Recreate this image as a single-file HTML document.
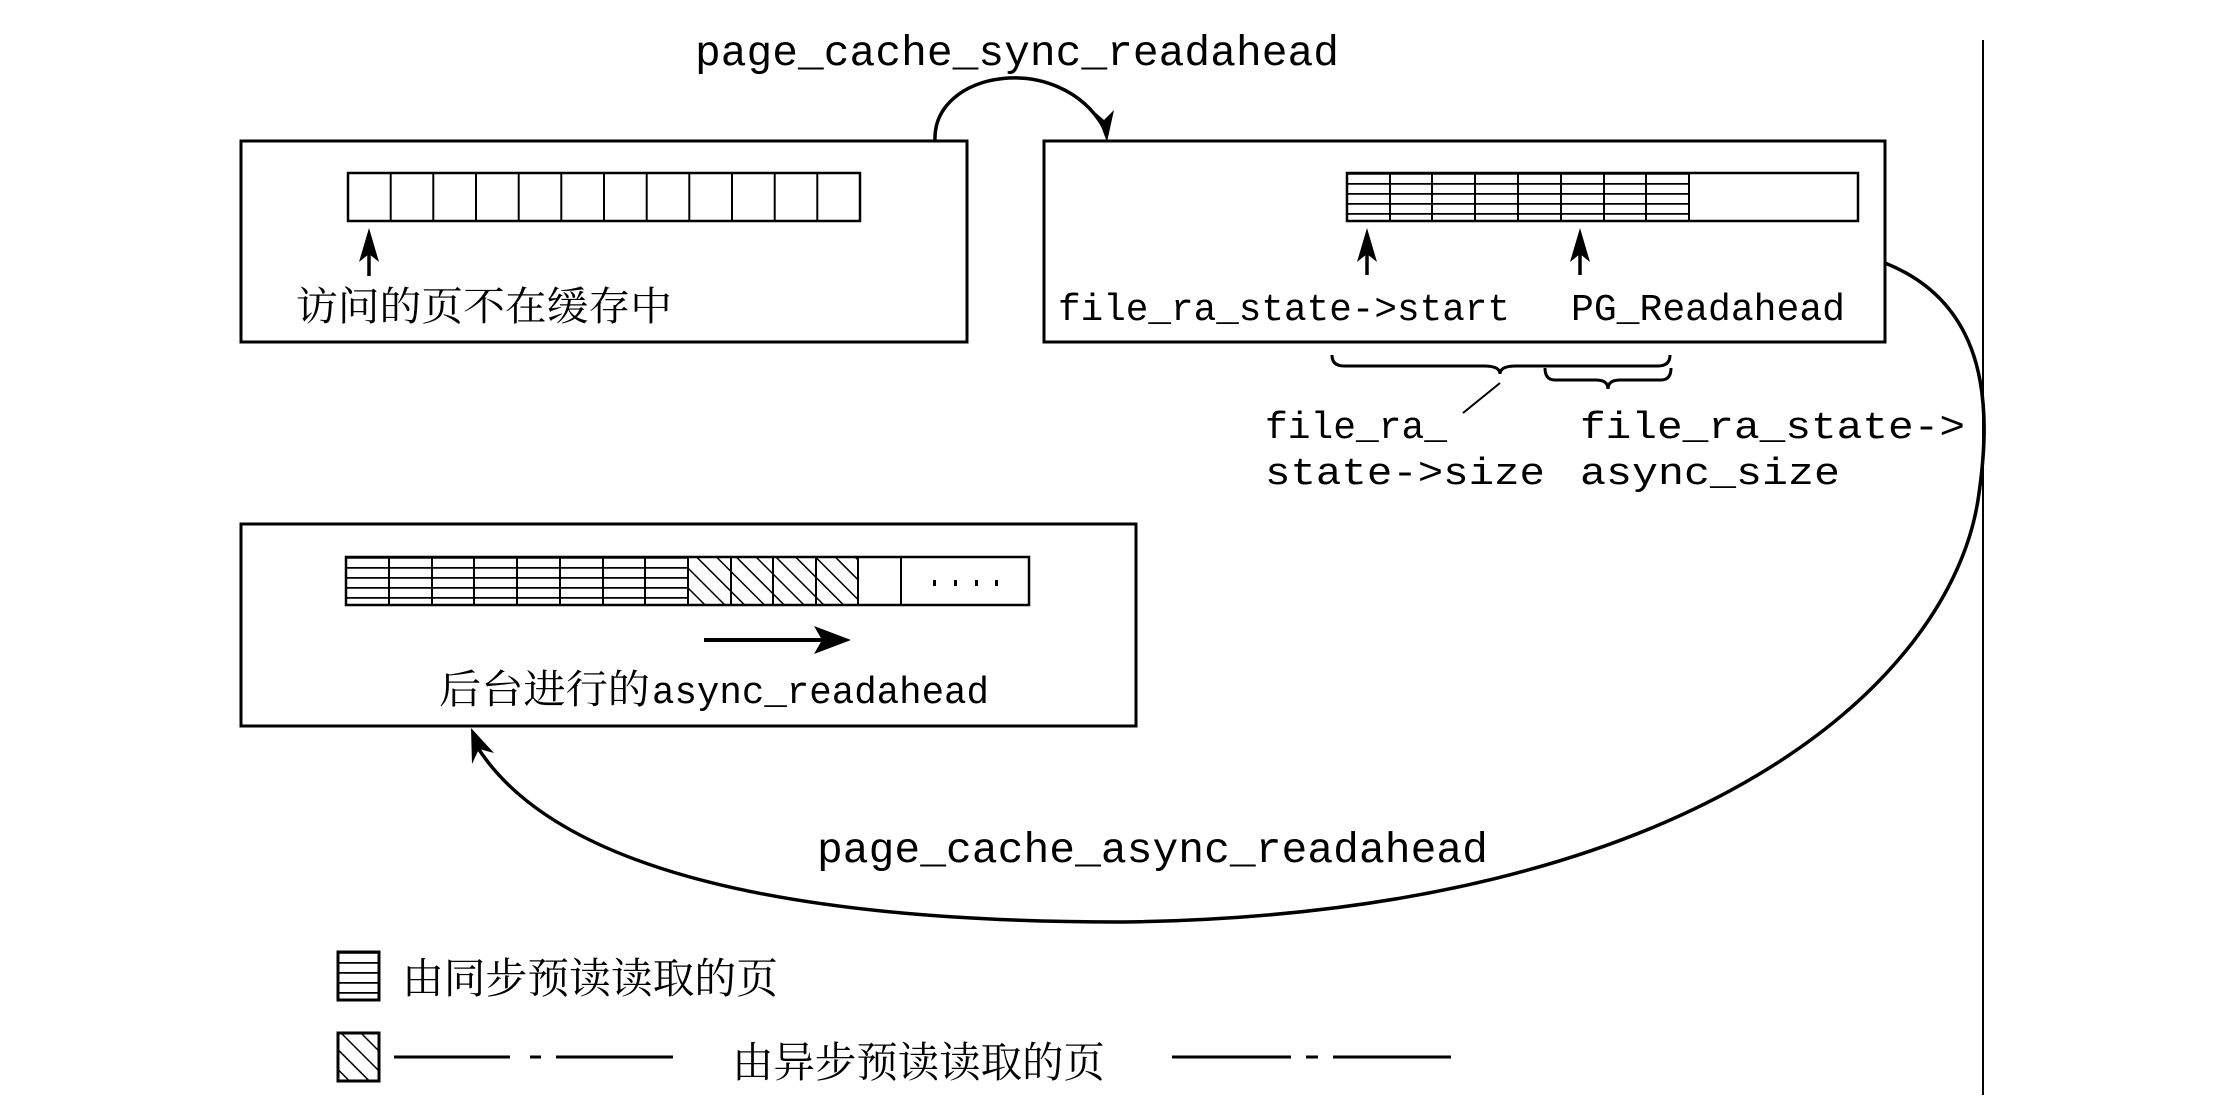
<!DOCTYPE html>
<html><head><meta charset="utf-8"><style>
html,body{margin:0;padding:0;background:#fff;}
svg{display:block;}
.m{font-family:"Liberation Mono",monospace;fill:#000;}
.c{font-family:"Liberation Serif","Noto Serif CJK SC",serif;fill:#000;}
</style></head><body>
<svg width="2226" height="1115" viewBox="0 0 2226 1115" xmlns="http://www.w3.org/2000/svg">
<defs>
<pattern id="hz" width="43" height="10" patternUnits="userSpaceOnUse" y="173">
<rect width="43" height="10" fill="#fff"/><line x1="0" y1="0.5" x2="43" y2="0.5" stroke="#000" stroke-width="2.5"/>
</pattern>
<pattern id="hz3" width="43" height="10" patternUnits="userSpaceOnUse" y="557">
<rect width="43" height="10" fill="#fff"/><line x1="0" y1="0.5" x2="43" y2="0.5" stroke="#000" stroke-width="2.5"/>
</pattern>
<pattern id="hzl" width="43" height="10" patternUnits="userSpaceOnUse" y="952">
<rect width="43" height="10" fill="#fff"/><line x1="0" y1="0.5" x2="43" y2="0.5" stroke="#000" stroke-width="2.5"/>
</pattern>
<pattern id="dg" width="14" height="14" patternUnits="userSpaceOnUse" patternTransform="rotate(-45)">
<rect width="14" height="14" fill="#fff"/><line x1="0" y1="0" x2="0" y2="14" stroke="#000" stroke-width="3"/>
</pattern>
</defs>
<g fill="none" stroke="#000">
<line x1="1983" y1="40" x2="1983" y2="1095" stroke-width="2"/>
<rect x="241" y="141" width="726" height="201" stroke-width="3"/>
<rect x="348" y="173" width="512" height="48" stroke-width="2.5"/>
<rect x="1044" y="141" width="841" height="201" stroke-width="3"/>
<rect x="1347" y="173" width="342" height="48" fill="url(#hz)" stroke="none"/>
<rect x="1347" y="173" width="511" height="48" stroke-width="2.5"/>
<rect x="241" y="524" width="895" height="202" stroke-width="3"/>
<rect x="346" y="557" width="342" height="48" fill="url(#hz3)" stroke="none"/>
<rect x="688" y="557" width="170" height="48" fill="url(#dg)" stroke="none"/>
<rect x="346" y="557" width="683" height="48" stroke-width="2.5"/>
</g>
<g stroke="#000" stroke-width="2">
<line x1="390.7" y1="173" x2="390.7" y2="221"/><line x1="433.3" y1="173" x2="433.3" y2="221"/><line x1="476" y1="173" x2="476" y2="221"/><line x1="518.7" y1="173" x2="518.7" y2="221"/><line x1="561.3" y1="173" x2="561.3" y2="221"/><line x1="604" y1="173" x2="604" y2="221"/><line x1="646.7" y1="173" x2="646.7" y2="221"/><line x1="689.3" y1="173" x2="689.3" y2="221"/><line x1="732" y1="173" x2="732" y2="221"/><line x1="774.7" y1="173" x2="774.7" y2="221"/><line x1="817.3" y1="173" x2="817.3" y2="221"/>
<line x1="1390" y1="173" x2="1390" y2="221"/><line x1="1432" y1="173" x2="1432" y2="221"/><line x1="1475" y1="173" x2="1475" y2="221"/><line x1="1518" y1="173" x2="1518" y2="221"/><line x1="1561" y1="173" x2="1561" y2="221"/><line x1="1604" y1="173" x2="1604" y2="221"/><line x1="1646" y1="173" x2="1646" y2="221"/><line x1="1689" y1="173" x2="1689" y2="221"/>
<line x1="389" y1="557" x2="389" y2="605"/><line x1="432" y1="557" x2="432" y2="605"/><line x1="474" y1="557" x2="474" y2="605"/><line x1="517" y1="557" x2="517" y2="605"/><line x1="560" y1="557" x2="560" y2="605"/><line x1="603" y1="557" x2="603" y2="605"/><line x1="645" y1="557" x2="645" y2="605"/><line x1="688" y1="557" x2="688" y2="605"/><line x1="731" y1="557" x2="731" y2="605"/><line x1="773" y1="557" x2="773" y2="605"/><line x1="816" y1="557" x2="816" y2="605"/><line x1="858" y1="557" x2="858" y2="605"/><line x1="901" y1="557" x2="901" y2="605"/>
</g>
<g fill="#000"><rect x="933" y="580" width="3" height="6"/><rect x="954" y="580" width="3" height="6"/><rect x="975" y="580" width="3" height="6"/><rect x="995" y="580" width="3" height="6"/></g>
<g stroke="#000" stroke-width="3.5"><line x1="369" y1="276" x2="369" y2="250"/><line x1="1367" y1="275" x2="1367" y2="250"/><line x1="1580" y1="275" x2="1580" y2="250"/>
<line x1="704" y1="640" x2="830" y2="640" stroke-width="4"/></g>
<g fill="#000"><polygon points="369,228 359,262 369,254 379,262"/><polygon points="1367,228 1357,262 1367,254 1377,262"/><polygon points="1580,228 1570,262 1580,254 1590,262"/>
<polygon points="851,640 814,626 822,640 814,654"/></g>
<g fill="none" stroke="#000" stroke-width="3">
<path d="M1332,355 Q1332,366 1344,366 L1484,366 Q1500,366 1500,374 Q1500,366 1516,366 L1658,366 Q1670,366 1670,355"/>
<path d="M1545,368 Q1545,380 1555,380 L1596,380 Q1608,380 1608,389 Q1608,380 1620,380 L1661,380 Q1671,380 1671,368"/>
<line x1="1500" y1="383" x2="1463" y2="413" stroke-width="2"/>
</g>
<path d="M935,141 C932,70 1060,50 1104,128" fill="none" stroke="#000" stroke-width="3.5"/>
<polygon points="1107,142 1096,113 1104,120 1114,110" fill="#000"/>
<path d="M1885,263 C1990,305 1992,410 1978,500 C1950,680 1700,915 1122,922 C820,922 560,880 476,745" fill="none" stroke="#000" stroke-width="3.5"/>
<polygon points="471,728 472,764 479,749 494,753" fill="#000"/>
<rect x="338" y="952" width="41" height="48" fill="url(#hzl)" stroke="#000" stroke-width="3"/>
<rect x="338" y="1033" width="41" height="48" fill="url(#dg)" stroke="#000" stroke-width="3"/>
<g stroke="#000" stroke-width="3">
<line x1="394" y1="1057" x2="510" y2="1057"/><line x1="530" y1="1057" x2="541" y2="1057"/><line x1="556" y1="1057" x2="673" y2="1057"/>
<line x1="1172" y1="1057" x2="1291" y2="1057"/><line x1="1306" y1="1057" x2="1318" y2="1057"/><line x1="1333" y1="1057" x2="1451" y2="1057"/>
</g>
<text class="m" x="695" y="65" font-size="43" textLength="644" lengthAdjust="spacingAndGlyphs">page_cache_sync_readahead</text>
<text class="c" x="296" y="320" font-size="40" textLength="376" lengthAdjust="spacingAndGlyphs">访问的页不在缓存中</text>
<text class="m" x="1058" y="320" font-size="38" textLength="452" lengthAdjust="spacingAndGlyphs">file_ra_state-&gt;start</text>
<text class="m" x="1571" y="320" font-size="38" textLength="274" lengthAdjust="spacingAndGlyphs">PG_Readahead</text>
<text class="m" x="1265" y="438" font-size="38" textLength="182" lengthAdjust="spacingAndGlyphs">file_ra_</text>
<text class="m" x="1265" y="484" font-size="38" textLength="280" lengthAdjust="spacingAndGlyphs">state-&gt;size</text>
<text class="m" x="1580" y="438" font-size="38" textLength="385" lengthAdjust="spacingAndGlyphs">file_ra_state-&gt;</text>
<text class="m" x="1580" y="484" font-size="38" textLength="260" lengthAdjust="spacingAndGlyphs">async_size</text>
<text class="c" x="439" y="703" font-size="40" textLength="211" lengthAdjust="spacingAndGlyphs">后台进行的</text>
<text class="m" x="652" y="703" font-size="38" textLength="337" lengthAdjust="spacingAndGlyphs">async_readahead</text>
<text class="m" x="817" y="862" font-size="43" textLength="671" lengthAdjust="spacingAndGlyphs">page_cache_async_readahead</text>
<text class="c" x="402" y="993" font-size="42" textLength="376" lengthAdjust="spacingAndGlyphs">由同步预读读取的页</text>
<text class="c" x="732" y="1077" font-size="42" textLength="373" lengthAdjust="spacingAndGlyphs">由异步预读读取的页</text>
</svg>
</body></html>
